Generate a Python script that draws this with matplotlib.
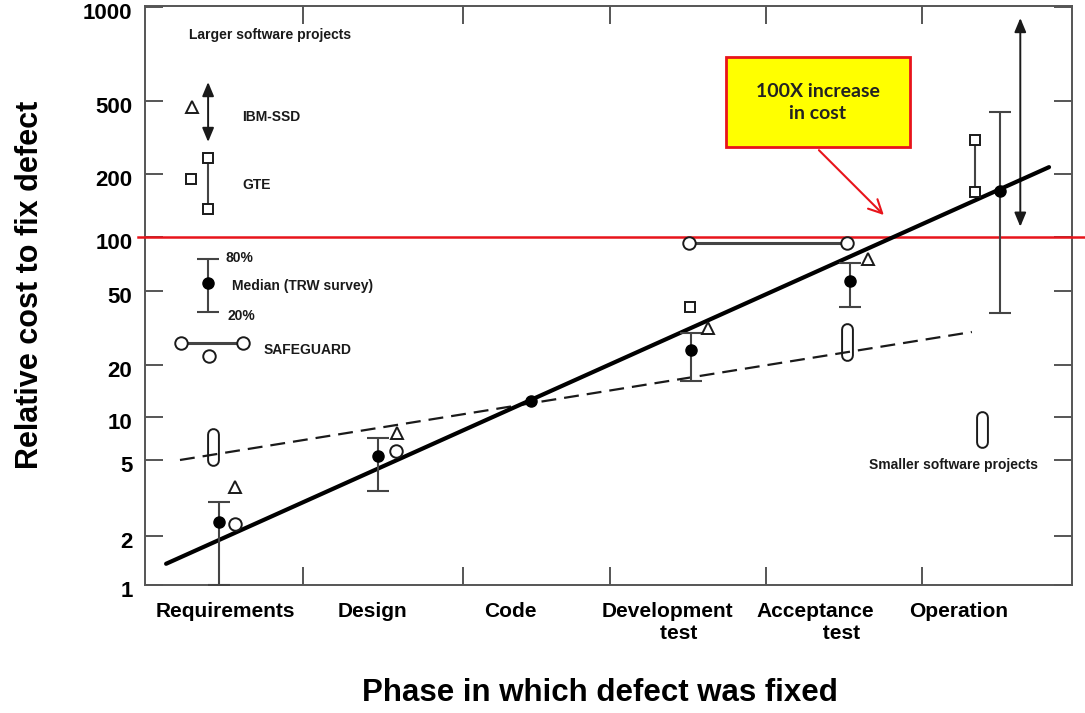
import numpy as np
import matplotlib
matplotlib.use("Agg")
import matplotlib.pyplot as plt
import matplotlib.transforms as mtransforms
from matplotlib.patches import Rectangle
from matplotlib.ticker import NullLocator

plt.rcParams["font.family"] = ["Liberation Sans", "DejaVu Sans"]

# === Data ===
phases = ["Requirements", "Design", "Code", "Development\n    test", "Acceptance\n         test", "Operation"]
ytick_vals = [1, 2, 5, 10, 20, 50, 100, 200, 500, 1000]

# TRW survey: median with 20% / 80% range
trw_x = [0.0, 1.02, 3.02, 4.04, 5.0]
trw_med = [2.37, 5.33, 24.1, 56.9, 166]
trw_lo = [1.0, 3.44, 16.2, 41, 38]
trw_hi = [3.0, 7.1, 29.7, 71.6, 436]
code_x, code_val = 2.0, 12.4

# IBM-SSD (triangles) and its range at operation
ibm_x = [0.10, 1.14, 3.13, 4.155]
ibm_val = [3.6, 7.7, 31.6, 75.4]
ibm_range_x, ibm_range = 5.13, (112, 922)

# GTE (squares)
gte_x = [3.015]
gte_val = [41]
gte_range_x, gte_range = 4.84, (164, 306)

# SAFEGUARD (circles)
sg_x = [0.10, 1.13]
sg_val = [2.31, 5.78]
sg_pair_x, sg_pair_val = (3.01, 4.02), 92.6

# Smaller software projects (rounded bars)
small_x = [-0.04, 4.02, 4.885]
small_lo = [5.0, 22.6, 6.7]
small_hi = [7.6, 31.2, 10.0]

# fitted trends
fit_large_x, fit_large = [-0.339, 5.314], [1.35, 218]
fit_small_x, fit_small = [-0.25, 4.82], [5.0, 30.1]

# === Non-uniform log axis of the original figure ===
scale_log = np.log10(ytick_vals)
scale_pos = np.array([0, 49, 125, 168, 220, 294, 348, 411, 484, 578], float)


def _interp(x, xp, fp):
    x = np.atleast_1d(np.asarray(x, float))
    y = np.interp(x, xp, fp)
    lo, hi = x < xp[0], x > xp[-1]
    y[lo] = fp[0] + (x[lo] - xp[0]) * (fp[1] - fp[0]) / (xp[1] - xp[0])
    y[hi] = fp[-1] + (x[hi] - xp[-1]) * (fp[-1] - fp[-2]) / (xp[-1] - xp[-2])
    return y


def forward(v):
    v = np.asarray(v, float)
    with np.errstate(divide="ignore", invalid="ignore"):
        lv = np.log10(np.where(v > 0, v, 1e-300))
    return _interp(lv, scale_log, scale_pos).reshape(np.shape(v))


def inverse(p):
    p = np.asarray(p, float)
    return (10 ** _interp(p, scale_pos, scale_log)).reshape(np.shape(p))


# === Figure ===
fig = plt.figure(figsize=(10.85, 7.13), dpi=100)
ax = fig.add_axes([145 / 1085, 128 / 713, 927 / 1085, 579 / 713])
ax.set_yscale("function", functions=(forward, inverse))
ax.set_xlim(-0.474, 5.461)
ax.set_ylim(1, float(inverse(579)))

for sp in ax.spines.values():
    sp.set_color("#555555")
    sp.set_linewidth(1.4)

ink = "#1a1a1a"
bar_c = "#444444"

# trends
ax.plot(fit_large_x, fit_large, color="black", lw=3.0, zorder=5, solid_capstyle="round")
ax.plot(fit_small_x, fit_small, color=ink, lw=1.6, dashes=(6.7, 3.6), zorder=4)

# smaller projects: rounded bars
for x, lo, hi in zip(small_x, small_lo, small_hi):
    ax.plot([x, x], [lo, hi], color=ink, lw=9.2, solid_capstyle="round", zorder=3)
    ax.plot([x, x], [lo, hi], color="white", lw=6.4, solid_capstyle="round", zorder=3.1)

# TRW medians
med = np.array(trw_med, float)
ax.errorbar(trw_x, med, yerr=[med - np.array(trw_lo), np.array(trw_hi) - med],
            fmt="o", color="black", ms=8, ecolor=bar_c, elinewidth=1.5,
            capsize=8, capthick=1.5, zorder=6)
ax.plot([code_x], [code_val], "o", color="black", ms=8, zorder=6)

# IBM-SSD
ax.plot(ibm_x, ibm_val, "^", ms=8, mfc="white", mec=ink, mew=1.4, ls="none", zorder=6)
ax.annotate("", xy=(ibm_range_x, ibm_range[1]), xytext=(ibm_range_x, ibm_range[0]),
            arrowprops=dict(arrowstyle="<|-|>,head_length=0.6,head_width=0.25",
                            color=ink, lw=1.4, shrinkA=0, shrinkB=0, mutation_scale=14))

# GTE
ax.plot(gte_x, gte_val, "s", ms=7, mfc="white", mec=ink, mew=1.4, ls="none", zorder=6)
ax.plot([gte_range_x] * 2, gte_range, "-s", color=bar_c, lw=1.5, ms=7,
        mfc="white", mec=ink, mew=1.4, zorder=6)

# SAFEGUARD
ax.plot(sg_x, sg_val, "o", ms=9, mfc="white", mec=ink, mew=1.4, ls="none", zorder=6)
ax.plot(sg_pair_x, [sg_pair_val] * 2, "-o", color=bar_c, lw=2.2, ms=9,
        mfc="white", mec=ink, mew=1.4, zorder=6)

# === Key (upper left) ===
key_txt = dict(fontsize=10, fontweight="bold", color=ink, va="center")
ax.text(0.327, 813, "Larger software projects", ha="center", **key_txt)

ax.plot([-0.173], [464], "^", ms=8, mfc="white", mec=ink, mew=1.4, zorder=6)
ax.annotate("", xy=(-0.07, 575), xytext=(-0.07, 299),
            arrowprops=dict(arrowstyle="<|-|>,head_length=0.6,head_width=0.25",
                            color=ink, lw=1.4, shrinkA=0, shrinkB=0, mutation_scale=14))
ax.text(0.147, 409, "IBM-SSD", ha="left", **key_txt)

ax.plot([-0.179], [189], "s", ms=7, mfc="white", mec=ink, mew=1.4, zorder=6)
ax.plot([-0.07, -0.07], [136, 245], "-s", color=bar_c, lw=1.5, ms=7,
        mfc="white", mec=ink, mew=1.4, zorder=6)
ax.text(0.147, 177, "GTE", ha="left", **key_txt)

ax.errorbar([-0.07], [55.4], yerr=[[55.4 - 38.5], [75.4 - 55.4]], fmt="o",
            color="black", ms=8, ecolor=bar_c, elinewidth=1.5, capsize=8,
            capthick=1.5, zorder=6)
ax.text(0.04, 76, "80%", ha="left", **key_txt)
ax.text(0.083, 53.3, "Median (TRW survey)", ha="left", **key_txt)
ax.text(0.051, 36.7, "20%", ha="left", **key_txt)

ax.plot([-0.243, 0.154], [26.3, 26.3], "-o", color=bar_c, lw=2.2, ms=9,
        mfc="white", mec=ink, mew=1.4, zorder=6)
ax.plot([-0.064], [22.4], "o", ms=9, mfc="white", mec=ink, mew=1.4, zorder=6)
ax.text(0.282, 24.1, "SAFEGUARD", ha="left", **key_txt)

ax.text(4.705, 4.71, "Smaller software projects", ha="center", **key_txt)

# === 100x line and callout ===
red = "#e8141b"
ax.axhline(100, xmin=-0.008, xmax=1.02, color=red, lw=1.8, clip_on=False, zorder=4.5)
ax.add_patch(Rectangle((0.627, 0.7565), 0.198, 0.1554, transform=ax.transAxes,
                       facecolor="#ffff00", edgecolor=red, lw=2, zorder=7))
ax.text(0.726, 0.834, "100X increase\nin cost", transform=ax.transAxes,
        ha="center", va="center", fontsize=14, fontweight="bold",
        family=["Lato", "DejaVu Sans"], color="#222222", linespacing=1.35, zorder=8)
ax.annotate("", xy=(0.797, 0.639), xytext=(0.727, 0.751),
            xycoords="axes fraction", textcoords="axes fraction",
            arrowprops=dict(arrowstyle="->,head_length=0.8,head_width=0.4",
                            color=red, lw=1.5, shrinkA=0, shrinkB=0, mutation_scale=12),
            zorder=8)

# === Ticks ===
ax.set_yticks(ytick_vals)
ax.set_yticklabels([str(v) for v in ytick_vals], fontsize=16, fontweight="bold")
ax.yaxis.set_minor_locator(NullLocator())
ax.tick_params(axis="y", which="major", direction="in", left=True, right=True,
               length=13, width=1.4, color="#555555", pad=9)
shift = mtransforms.ScaledTranslation(0, -4 / 100, fig.dpi_scale_trans)
for lab in ax.get_yticklabels():
    lab.set_transform(lab.get_transform() + shift)

ax.set_xticks([0.038, 0.98, 1.863, 2.868, 3.816, 4.738])
ax.set_xticklabels(phases, fontsize=15, fontweight="bold")
ax.set_xticks([0.54, 1.56, 2.5, 3.5, 4.5], minor=True)
ax.tick_params(axis="x", which="major", length=0, pad=12)
ax.tick_params(axis="x", which="minor", direction="in", top=True, bottom=True,
               length=13, width=1.4, color="#555555")

fig.text(30 / 1085, 1 - 285 / 713, "Relative cost to fix defect", rotation=90,
         ha="center", va="center", fontsize=22, fontweight="bold")
fig.text(600 / 1085, 1 - 693 / 713, "Phase in which defect was fixed",
         ha="center", va="center", fontsize=22.5, fontweight="bold")

fig.savefig("out.png", dpi=100)
